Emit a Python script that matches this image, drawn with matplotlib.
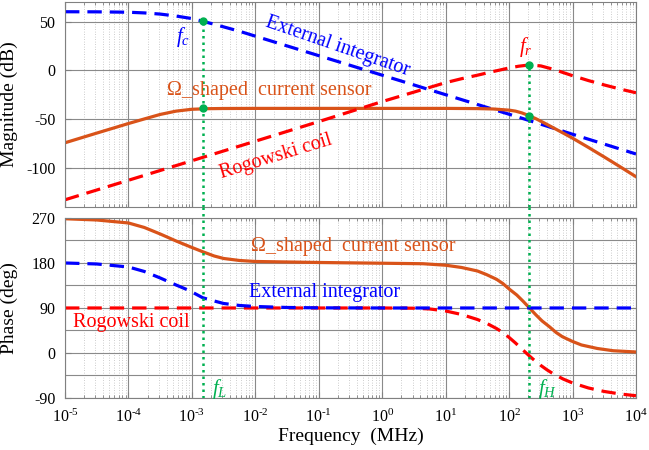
import numpy as np
import matplotlib
matplotlib.use("Agg")
import matplotlib.pyplot as plt
from matplotlib.ticker import FixedLocator, LogLocator, NullFormatter

plt.rcParams['font.family'] = ['Liberation Serif', 'DejaVu Serif']
plt.rcParams['mathtext.fontset'] = 'custom'
plt.rcParams['mathtext.rm'] = 'Liberation Serif'
plt.rcParams['mathtext.it'] = 'Liberation Serif:italic'
plt.rcParams['axes.unicode_minus'] = False

# magnitude curves (log10 of frequency in MHz, dB)
ext_mag_lf = [-5, -4.5, -4, -3.75, -3.5, -3.25, -3, -2.83, -2.5, -2.25, -2, -1.5, -1, -0.5, 0, 1, 2, 2.32, 3, 4]
ext_mag_db = [60, 59.9, 59.5, 58.8, 57.6, 55.6, 53, 50.3, 44.5, 40, 35, 25, 15, 5, -5, -25, -45, -51.5, -65.5, -85.7]

omega_mag_lf = [-5, -4.5, -4, -3.75, -3.5, -3.25, -3, -2.75, -2.5, -2, 0, 1, 1.5, 1.75, 2, 2.1, 2.2, 2.32, 2.42, 2.55, 2.7, 2.85, 3, 3.25, 3.5, 3.75, 4]
omega_mag_db = [-74.2, -64.3, -54.5, -49.8, -45.2, -41.8, -39.9, -39.3, -39.1, -39, -39, -39, -39.2, -39.6, -40.8, -41.8, -43.6, -46.6, -49.5, -53.8, -59, -64.2, -69.5, -79, -88.8, -98.8, -109]

rog_mag_lf = [-5, -4, -3, -2, -1, 0, 0.5, 1, 1.25, 1.5, 1.75, 2, 2.15, 2.32, 2.5, 2.7, 3, 3.25, 3.5, 3.75, 4]
rog_mag_db = [-132.6, -112.6, -92.6, -72.6, -52.5, -32, -22.3, -12.6, -8.6, -5, -1.2, 2.4, 4.2, 5.5, 4.5, 1, -5.5, -10.5, -15, -19.2, -23]

# phase curves (log10 of frequency in MHz, deg)
omega_ph_lf = [-5, -4.5, -4, -3.75, -3.5, -3.25, -3, -2.83, -2.65, -2.5, -2.25, -2, -1, 0, 0.64, 1, 1.25, 1.5, 1.64, 1.8, 1.9, 2.0, 2.12, 2.22,
               2.32, 2.42, 2.52, 2.64, 2.74, 2.84, 3.0, 3.14, 3.39, 3.64, 4]
omega_ph_deg = [268.5, 266, 260, 251, 238, 224, 211, 202.5, 194, 189, 185, 183, 181, 179.5, 178.5, 175.5, 171, 164, 157, 147.5, 139, 128, 116, 103.5,
                90, 76.5, 64, 52, 41, 32.5, 23, 16, 9, 4.5, 2]

ext_ph_lf = [-5, -4.5, -4, -3.75, -3.5, -3.25, -3.1, -3, -2.83, -2.65, -2.5, -2.25, -2, -1.5, -1, 0, 4]
ext_ph_deg = [180, 178, 172, 163, 150, 136, 128, 122, 110.5, 104, 99, 95, 93, 91, 90.3, 90, 90]

rog_ph_lf = [-5, 0, 0.5, 0.75, 1, 1.25, 1.5, 1.65, 1.8, 1.9, 2.0, 2.1, 2.2, 2.32, 2.42, 2.5, 2.6, 2.7, 2.85, 3, 3.25, 3.5, 3.75, 4]
rog_ph_deg = [90, 90, 89.5, 88, 84, 77, 67, 59, 49, 41, 31, 20, 8, -6, -17, -25, -34, -42, -52, -60, -70, -77, -82, -85.5]

# marked frequencies (MHz)
f_low = 10 ** -2.83
f_high = 10 ** 2.32
dot_top_low = [50.3, -39]
dot_top_high = [5.5, -46.6]

c_blue = '#0000FF'
c_red = '#FF0000'
c_orange = '#D95319'
c_green = '#00B050'
dash = (0, (4.5, 2.5))
dotted = (0, (1, 1.6))

fig = plt.figure(figsize=(6.49, 4.5), dpi=100)
ax1 = fig.add_axes([0.1002, 0.540, 0.8798, 0.4556])
ax2 = fig.add_axes([0.1002, 0.1156, 0.8798, 0.400])

def f(lf):
    return 10 ** np.array(lf)

for ax in (ax1, ax2):
    ax.set_xscale('log')
    ax.set_xlim(1e-5, 1e4)
    ax.xaxis.set_major_locator(FixedLocator([10.0 ** k for k in range(-5, 5)]))
    ax.xaxis.set_minor_locator(LogLocator(base=10, subs=np.arange(2, 10), numticks=20))
    ax.xaxis.set_minor_formatter(NullFormatter())
    ax.grid(True, which='major', color='#8a8a8a', linewidth=0.8)
    ax.grid(True, which='minor', axis='x', color='#bcbcbc', linestyle=(0, (1, 2)), linewidth=0.6)
    ax.tick_params(which='both', direction='in', top=True, right=True, color='#808080',
                   labelsize=11.5)
    ax.tick_params(axis='y', pad=7)
    ax.tick_params(axis='x', pad=8)
    ax.tick_params(which='major', length=4)
    ax.tick_params(which='minor', length=2)
    for s in ax.spines.values():
        s.set_color('#808080')
        s.set_linewidth(0.8)
    ax.set_axisbelow(True)

# magnitude
ax1.plot(f(ext_mag_lf), ext_mag_db, color=c_blue, lw=2.3, linestyle=dash)
ax1.plot(f(omega_mag_lf), omega_mag_db, color=c_orange, lw=2.3)
ax1.plot(f(rog_mag_lf), rog_mag_db, color=c_red, lw=2.3, linestyle=dash)
ax1.vlines([f_low], -140, dot_top_low[0], color=c_green, lw=1.8, linestyle=dotted)
ax1.vlines([f_high], -140, dot_top_high[0], color=c_green, lw=1.8, linestyle=dotted)
ax1.plot([f_low] * 2, dot_top_low, 'o', color=c_green, ms=5)
ax1.plot([f_high] * 2, dot_top_high, 'o', color=c_green, ms=5)
ax1.set_ylim(-140, 70)
ax1.set_yticks([-100, -50, 0, 50])
ax1.set_xticklabels([])
ax1.set_ylabel('Magnitude (dB)', fontsize=14)
ax1.yaxis.set_label_coords(-0.082, 0.5)

ax1.text(7.2e-4, 33.7, '$f_c$', color=c_blue, fontsize=15, ha='center', va='center')
ax1.text(186, 23.5, '$f_r$', color=c_red, fontsize=15, ha='center', va='center')
ax1.text(0.195, 24.5, 'External integrator', color=c_blue, fontsize=14.5,
         ha='center', va='center', rotation=-19, rotation_mode='anchor')
ax1.text(4.07e-4, -20.4, 'Ω_shaped  current sensor', color=c_orange, fontsize=14.5,
         ha='left', va='center')
ax1.text(0.0214, -88.8, 'Rogowski coil', color=c_red, fontsize=14.5,
         ha='center', va='center', rotation=17, rotation_mode='anchor')

# phase
ax2.plot(f(omega_ph_lf), omega_ph_deg, color=c_orange, lw=2.3)
ax2.plot(f(rog_ph_lf), rog_ph_deg, color=c_red, lw=2.3, linestyle=dash)
ax2.plot(f(ext_ph_lf), ext_ph_deg, color=c_blue, lw=2.3, linestyle=dash)
ax2.vlines([f_low, f_high], -90, 292, color=c_green, lw=1.8, linestyle=dotted, clip_on=False)
ax2.set_ylim(-90, 270)
ax2.set_yticks([-90, 0, 90, 180, 270])
ax2.set_yticks([-45, 45, 135, 225], minor=True)
ax2.grid(True, which='minor', axis='y', color='#8a8a8a', linewidth=0.8)
ax2.tick_params(axis='y', which='minor', length=0)
ax2.set_xticklabels([r'$10^{\text{%d}}$' % k for k in range(-5, 5)])
ax2.set_ylabel('Phase (deg)', fontsize=14)
ax2.yaxis.set_label_coords(-0.082, 0.5)
ax2.set_xlabel('Frequency  (MHz)', fontsize=14, labelpad=1)

ax2.text(8.5e-3, 212, 'Ω_shaped  current sensor', color=c_orange, fontsize=14.5, ha='left', va='center')
ax2.text(7.9e-3, 120, 'External integrator', color=c_blue, fontsize=14.5, ha='left', va='center')
ax2.text(1.35e-5, 60, 'Rogowski coil', color=c_red, fontsize=14.5, ha='left', va='center')
ax2.text(2.1e-3, -72, '$f_L$', color=c_green, fontsize=15, ha='left', va='center')
ax2.text(290, -72, '$f_H$', color=c_green, fontsize=15, ha='left', va='center')

fig.savefig('out.png', dpi=100)
